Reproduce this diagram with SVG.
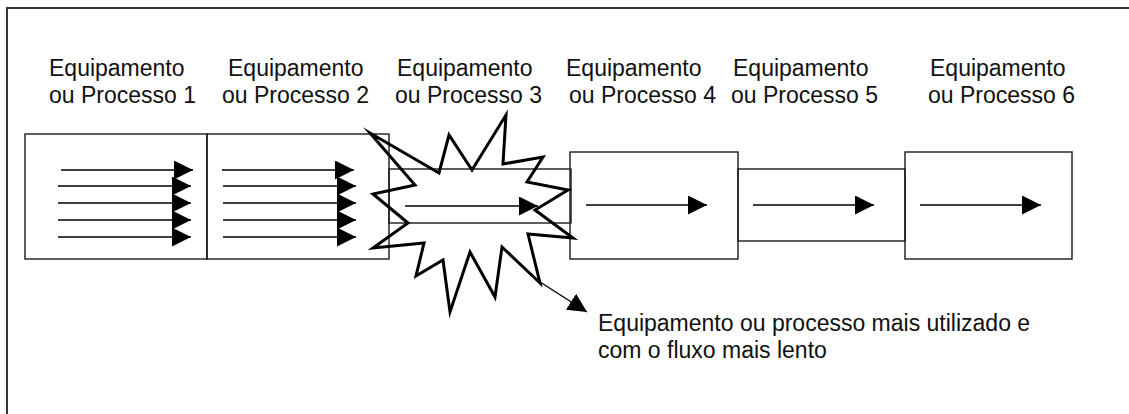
<svg xmlns="http://www.w3.org/2000/svg" width="1129" height="414" viewBox="0 0 1129 414">
  <style>
    .box { fill: none; stroke: #1a1a1a; stroke-width: 1.4; }
    .lbl { font-family: "Liberation Sans", Arial, sans-serif; font-size: 23px; fill: #111; }
    .flow { stroke: #000; stroke-width: 1.4; fill: none; marker-end: url(#ah); }
    .star { fill: none; stroke: #000; stroke-width: 3; stroke-linejoin: miter; stroke-miterlimit: 10; }
  </style>
  <defs>
    <marker id="ah" markerUnits="userSpaceOnUse" markerWidth="19" markerHeight="19" refX="19" refY="9.5" orient="auto" viewBox="0 0 19 19">
      <path d="M0,0 L19,9.5 L0,19 Z" fill="#000"/>
    </marker>
  </defs>
  <rect x="0" y="0" width="1129" height="414" fill="#fff"/>
  <path d="M7,414 V8 H1129" fill="none" stroke="#333" stroke-width="2"/>

  <g id="node1">
    <rect class="box" x="25" y="134" width="182" height="125"/>
    <text class="lbl" x="49" y="76">Equipamento</text>
    <text class="lbl" x="49" y="103">ou Processo 1</text>
  </g>
  <g id="node2">
    <rect class="box" x="207" y="134" width="182" height="125"/>
    <text class="lbl" x="228" y="76">Equipamento</text>
    <text class="lbl" x="222" y="103">ou Processo 2</text>
  </g>
  <g id="node3">
    <rect class="box" x="389" y="169" width="182" height="54"/>
    <text class="lbl" x="397" y="76">Equipamento</text>
    <text class="lbl" x="395" y="103">ou Processo 3</text>
  </g>
  <g id="node4">
    <rect class="box" x="570" y="152" width="168" height="107"/>
    <text class="lbl" x="566" y="76">Equipamento</text>
    <text class="lbl" x="569" y="103">ou Processo 4</text>
  </g>
  <g id="node5">
    <rect class="box" x="738" y="169" width="167" height="72"/>
    <text class="lbl" x="733" y="76">Equipamento</text>
    <text class="lbl" x="731" y="103">ou Processo 5</text>
  </g>
  <g id="node6">
    <rect class="box" x="905" y="152" width="167" height="107"/>
    <text class="lbl" x="930" y="76">Equipamento</text>
    <text class="lbl" x="928" y="103">ou Processo 6</text>
  </g>
  <g id="bottleneck">
    <polygon class="star" points="370,133 439,173 449,135 472,170 506,115 503,164 543,157 527,182 568,190 535,210 573,238 528,234 540,283 502,247 495,297 470,252 450,312 443,260 416,276 424,243 373,248 408,223 373,194 415,185"/>
    <text class="lbl" x="598" y="331">Equipamento ou processo mais utilizado e</text>
    <text class="lbl" x="598" y="358">com o fluxo mais lento</text>
  </g>

  <g id="connectors">
    <line class="flow" x1="61" y1="170" x2="193" y2="170"/>
    <line class="flow" x1="58" y1="186" x2="191" y2="186"/>
    <line class="flow" x1="58" y1="203" x2="191" y2="203"/>
    <line class="flow" x1="58" y1="220" x2="191" y2="220"/>
    <line class="flow" x1="58" y1="237" x2="191" y2="237"/>
    <line class="flow" x1="222" y1="170" x2="354" y2="170"/>
    <line class="flow" x1="223" y1="186" x2="356" y2="186"/>
    <line class="flow" x1="223" y1="203" x2="356" y2="203"/>
    <line class="flow" x1="223" y1="220" x2="356" y2="220"/>
    <line class="flow" x1="223" y1="237" x2="356" y2="237"/>
    <line class="flow" x1="405" y1="206" x2="538" y2="206"/>
    <line class="flow" x1="586" y1="205" x2="707" y2="205"/>
    <line class="flow" x1="753" y1="205" x2="874" y2="205"/>
    <line class="flow" x1="920" y1="205" x2="1041" y2="205"/>
    <line class="flow" x1="540" y1="282" x2="587" y2="312"/>
  </g>
</svg>
